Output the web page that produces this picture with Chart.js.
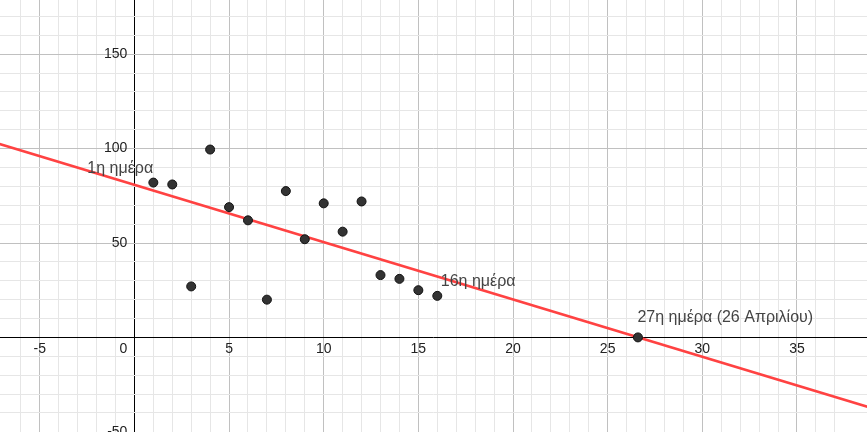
<!DOCTYPE html>
<html>
<head>
<meta charset="utf-8">
<script src="https://cdn.jsdelivr.net/npm/chart.js@4/dist/chart.umd.min.js"></script>
<style>
    html, body { margin: 0; padding: 0; background: #fff; }
    #wrap { width: 867px; height: 432px; }
</style>
</head>
<body>
<div id="wrap"><canvas id="chart" width="867" height="432"></canvas></div>
<script>
// days and measured values
const days = [1, 2, 3, 4, 5, 6, 7, 8, 9, 10, 11, 12, 13, 14, 15, 16];
const values = [82, 81, 27, 99.5, 69, 62, 20, 77.5, 52, 71, 56, 72, 33, 31, 25, 22];

const lineX = [-8, 40];
const lineY = [105.1, -40.6];

// extra point where the line meets the x axis
const zeroX = [26.6];
const zeroY = [0];

// tick labels
const xTickLabels = [-5, 5, 10, 15, 20, 25, 30, 35];
const yTickLabels = [-50, 50, 100, 150];

// annotation texts and the values they hang on
const noteTexts = ['1η ημέρα', '16η ημέρα', '27η ημέρα (26 Απριλίου)'];
const noteX = [1, 16, 26.6];
const noteY = [82, 22, 0];

const AXIS_FONT = '14px "Liberation Sans", Arial, sans-serif';
const NOTE_FONT = '16px "Liberation Sans", Arial, sans-serif';

function gridColor(step, major) {
    return ctx => {
        const v = ctx.tick.value;
        if (Math.abs(v) < 1e-9) return '#000';
        if (Math.abs(v / step - Math.round(v / step)) > 1e-6) return 'rgba(0,0,0,0)';
        return Math.abs(v / major - Math.round(v / major)) < 1e-6 ? '#c0c0c0' : '#e6e6e6';
    };
}

const axisLabels = {
    id: 'axisLabels',
    afterDatasetsDraw(chart) {
        const { ctx, scales: { x, y } } = chart;
        const x0 = x.getPixelForValue(0);
        const y0 = y.getPixelForValue(0);
        ctx.save();
        ctx.font = AXIS_FONT;
        ctx.fillStyle = '#222';
        ctx.textBaseline = 'middle';

        ctx.textAlign = 'center';
        xTickLabels.forEach(v => {
            ctx.fillText(String(v), x.getPixelForValue(v), y0 + 12);
        });

        ctx.textAlign = 'right';
        yTickLabels.forEach(v => {
            ctx.fillText(String(v), x0 - 7, y.getPixelForValue(v));
        });
        ctx.fillText('0', x0 - 7, y0 + 12);

        // point captions
        const offsets = [[-66, -14], [3.5, -14], [-0.5, -20]];
        ctx.font = NOTE_FONT;
        ctx.fillStyle = '#444';
        ctx.textAlign = 'left';
        noteTexts.forEach((t, i) => {
            const px = x.getPixelForValue(noteX[i]) + offsets[i][0];
            const py = y.getPixelForValue(noteY[i]) + offsets[i][1];
            ctx.fillText(t, px, py);
        });
        ctx.restore();
    }
};

const pointStyle = {
    pointRadius: 4.5,
    pointBackgroundColor: '#333',
    pointBorderColor: '#111',
    pointBorderWidth: 1
};

new Chart(document.getElementById('chart'), {
    type: 'scatter',
    data: {
        datasets: [
            {
                data: days.map((d, i) => ({ x: d, y: values[i] })),
                order: 0,
                ...pointStyle
            },
            {
                data: zeroX.map((d, i) => ({ x: d, y: zeroY[i] })),
                order: 0,
                ...pointStyle
            },
            {
                data: lineX.map((d, i) => ({ x: d, y: lineY[i] })),
                showLine: true,
                pointRadius: 0,
                borderColor: '#ff4242',
                borderWidth: 2.5,
                order: 1
            }
        ]
    },
    options: {
        responsive: false,
        devicePixelRatio: 1,
        animation: false,
        layout: { padding: 0, autoPadding: false },
        plugins: {
            legend: { display: false },
            tooltip: { enabled: false }
        },
        scales: {
            x: {
                type: 'linear',
                min: -7.1,
                max: 38.7,
                ticks: { display: false, stepSize: 1 },
                border: { display: false },
                grid: { drawTicks: false, color: gridColor(1, 5), lineWidth: 1 }
            },
            y: {
                type: 'linear',
                min: -50.1,
                max: 178.7,
                ticks: { display: false, stepSize: 10 },
                border: { display: false },
                grid: { drawTicks: false, color: gridColor(10, 50), lineWidth: 1 }
            }
        }
    },
    plugins: [axisLabels]
});
</script>
</body>
</html>
